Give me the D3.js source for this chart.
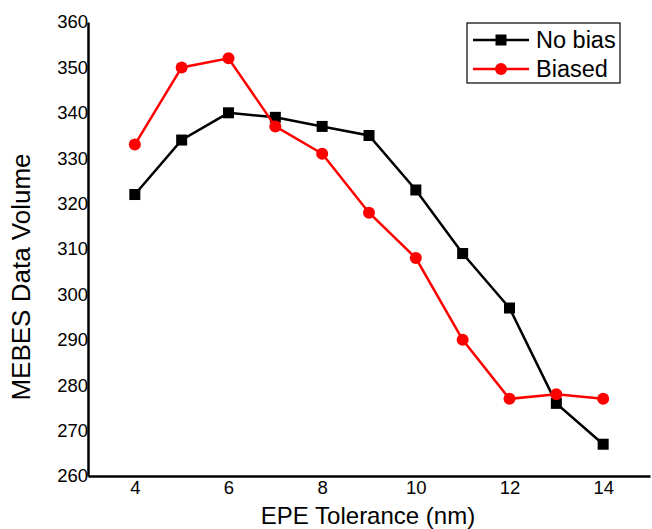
<!DOCTYPE html>
<html>
<head>
<meta charset="utf-8">
<script src="https://cdn.jsdelivr.net/npm/d3@7"></script>
<style>
  body { margin: 0; background: #fff; }
  text { font-family: "Liberation Sans", Arial, sans-serif; }
</style>
</head>
<body>
<div id="chart"></div>
<script>
// data
var tolerance = [4, 5, 6, 7, 8, 9, 10, 11, 12, 13, 14]
var noBias = [322, 334, 340, 339, 337, 335, 323, 309, 297, 276, 267]
var biased = [333, 350, 352, 337, 331, 318, 308, 290, 277, 278, 277]
var xTicks = [4, 6, 8, 10, 12, 14]
var yTicks = [260, 270, 280, 290, 300, 310, 320, 330, 340, 350, 360]
var seriesNames = ['No bias', 'Biased']

var width = 652
var height = 529
var margin = { top: 22, bottom: 53, left: 88, right: 2 }

var svg = d3.select('#chart')
  .append('svg')
  .attr('width', width)
  .attr('height', height)

var x = d3.scaleLinear()
  .domain([3, 15])
  .range([margin.left, width - margin.right])

var y = d3.scaleLinear()
  .domain([260, 360])
  .range([height - margin.bottom, margin.top])

// axes
var xAxis = svg.append('g')
  .attr('transform', 'translate(0,' + y(260) + ')')
  .call(d3.axisBottom(x).tickValues(xTicks).tickSize(0).tickPadding(5).tickFormat(d3.format('d')))
xAxis.select('.domain').attr('stroke', '#000').attr('stroke-width', 2.5)
xAxis.selectAll('text').attr('font-size', '18.5px').attr('fill', '#000')

var yAxis = svg.append('g')
  .attr('transform', 'translate(' + x(3) + ',0)')
  .call(d3.axisLeft(y).tickValues(yTicks).tickSize(0).tickPadding(0))
yAxis.select('.domain').attr('stroke', '#000').attr('stroke-width', 2.5)
yAxis.selectAll('text').attr('font-size', '18.5px').attr('fill', '#000')

// axis titles
svg.append('text')
  .attr('x', 368)
  .attr('y', 524)
  .attr('text-anchor', 'middle')
  .attr('font-size', '24px')
  .text('EPE Tolerance (nm)')

svg.append('text')
  .attr('transform', 'translate(30,' + 277 + ') rotate(-90)')
  .attr('text-anchor', 'middle')
  .attr('font-size', '26px')
  .text('MEBES Data Volume')

var line = d3.line()
  .x((d, i) => x(tolerance[i]))
  .y(d => y(d))

// no bias series
svg.append('path')
  .datum(noBias)
  .attr('fill', 'none')
  .attr('stroke', '#000')
  .attr('stroke-width', 2.5)
  .attr('d', line)

svg.selectAll('.sq')
  .data(noBias)
  .enter()
  .append('rect')
  .attr('class', 'sq')
  .attr('x', (d, i) => x(tolerance[i]) - 5.5)
  .attr('y', d => y(d) - 5.5)
  .attr('width', 11)
  .attr('height', 11)
  .attr('fill', '#000')

// biased series
svg.append('path')
  .datum(biased)
  .attr('fill', 'none')
  .attr('stroke', '#ff0000')
  .attr('stroke-width', 2.5)
  .attr('d', line)

svg.selectAll('.dot')
  .data(biased)
  .enter()
  .append('circle')
  .attr('class', 'dot')
  .attr('cx', (d, i) => x(tolerance[i]))
  .attr('cy', d => y(d))
  .attr('r', 6)
  .attr('fill', '#ff0000')

// legend
svg.append('rect')
  .attr('x', 467)
  .attr('y', 23)
  .attr('width', 153)
  .attr('height', 60)
  .attr('fill', 'none')
  .attr('stroke', '#000')
  .attr('stroke-width', 1.2)

seriesNames.forEach((name, i) => {
  var ly = 40 + i * 29
  var color = i === 0 ? '#000' : '#ff0000'
  svg.append('line')
    .attr('x1', 473).attr('x2', 529)
    .attr('y1', ly).attr('y2', ly)
    .attr('stroke', color)
    .attr('stroke-width', 2.5)
  if (i === 0) {
    svg.append('rect')
      .attr('x', 501 - 5.5).attr('y', ly - 5.5)
      .attr('width', 11).attr('height', 11)
      .attr('fill', color)
  } else {
    svg.append('circle')
      .attr('cx', 501).attr('cy', ly)
      .attr('r', 6)
      .attr('fill', color)
  }
  svg.append('text')
    .attr('x', 536)
    .attr('y', ly + 8)
    .attr('font-size', '23.5px')
    .text(name)
})
</script>
</body>
</html>
